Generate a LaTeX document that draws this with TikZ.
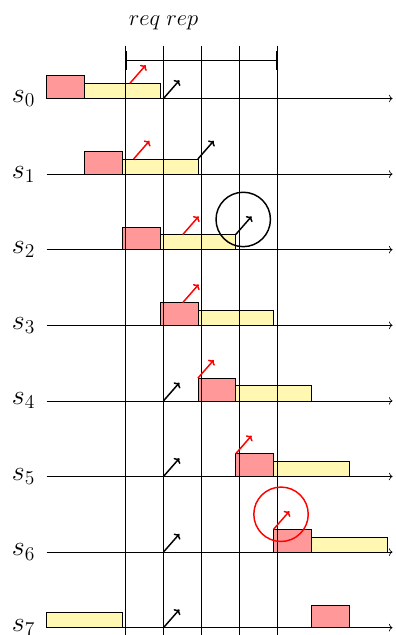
\documentclass[tikz,border=0pt]{standalone}
\usepackage{fix-cm}
\usetikzlibrary{arrows.meta}
\definecolor{boxred}{RGB}{255,153,153}
\definecolor{boxyel}{RGB}{255,247,178}
\tikzset{
  redbox/.style={draw=black, fill=boxred, line width=0.5pt},
  yelbox/.style={draw=black, fill=boxyel, line width=0.5pt},
  axisline/.style={->, line width=0.5pt},
  gridline/.style={line width=0.5pt},
  evt/.style={-{To[length=3.2pt,width=6.5pt]}, red, line width=1.1pt},
  ack/.style={-{To[length=3.2pt,width=6.5pt]}, black, line width=1.1pt},
  slabel/.style={anchor=east, inner sep=0pt, font=\fontsize{21}{24}\selectfont},
  toplabel/.style={anchor=base, inner sep=0pt, font=\fontsize{17}{20}\selectfont},
}
\begin{document}
\begin{tikzpicture}
\useasboundingbox (-1.235,-14.194) rectangle (9.241,2.606);
% axes and labels
\foreach \k in {0,...,7} {
  \coordinate (a\k) at (0,-2*\k);
  \coordinate (e\k) at (9.15,-2*\k);
  \draw[axisline] (a\k) -- (e\k);
  \node[slabel] (l\k) at (-0.3,-2*\k) {$s_{\k}$};
}
% boxes
\foreach \k in {0,...,6} {
  \draw[redbox] (\k,-2*\k) rectangle (\k+1,-2*\k+0.6);
  \draw[yelbox] (\k+1,-2*\k) rectangle (\k+3,-2*\k+0.4);
}
\draw[yelbox] (0,-14) rectangle (2,-13.6);
\draw[redbox] (7,-14) rectangle (8,-13.4);
% vertical lines
\foreach \i [count=\j] in {2.09,3.09,4.09,5.09,6.09} {
  \coordinate (vt\j) at (\i,1.4);
  \coordinate (vb\j) at (\i,-14.4);
  \draw[gridline] (vt\j) -- (vb\j);
}
\coordinate (br1) at (2.09,1.0);
\coordinate (br2) at (6.09,1.0);
\draw[{Bar[width=14pt]}-{Bar[width=14pt]}, line width=0.5pt] (br1) -- (br2);
\node[toplabel] (req) at (2.59,1.92) {$req$};
\node[toplabel] (rep) at (3.59,1.92) {$rep$};
% red arrows
\foreach \x/\y in {2.2/0.4, 2.3/-1.6, 3.6/-3.6, 3.6/-5.4, 4.0/-7.4, 5.0/-9.4, 6.0/-11.4} {
  \draw[evt] (\x,\y) -- ++(0.42,0.48);
}
% black arrows
\foreach \x/\y in {3.09/0, 4.0/-1.6, 5.0/-3.6, 3.09/-8, 3.09/-10, 3.09/-12, 3.09/-14} {
  \draw[ack] (\x,\y) -- ++(0.42,0.48);
}
% circles
\draw[line width=1.1pt] (5.2,-3.2) circle (0.72);
\draw[line width=1.1pt, red] (6.2,-11) circle (0.72);
\end{tikzpicture}
\end{document}
